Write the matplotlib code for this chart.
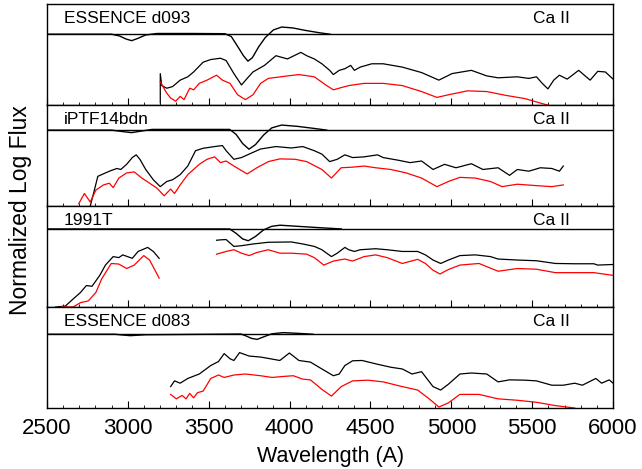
import matplotlib
matplotlib.use('Agg')
import matplotlib.pyplot as plt
from matplotlib.ticker import MultipleLocator

plt.rcParams['font.family'] = ['Liberation Sans', 'DejaVu Sans']

# panel names and line level (Ca II reference line, in panel units 0-100)
names = ['ESSENCE d093', 'iPTF14bdn', '1991T', 'ESSENCE d083']
line_level = [70.3, 75.3, 77.4, 73.1]

# ---- ESSENCE d093 ----
d093_ca_wave = [2500, 2900, 2950, 2990, 3024, 3060, 3110, 3180, 3400, 3600, 3640, 3680, 3715, 3743,
                3770, 3810, 3850, 3900, 3951, 4020, 4100, 4190, 4250]
d093_ca_flux = [70.3, 70.3, 68.5, 65.5, 63.9, 66.0, 69.5, 71.0, 71.0, 70.8, 68.0, 58.0, 49.0, 43.6,
                47.0, 58.0, 67.0, 74.5, 77.4, 76.5, 74.0, 71.6, 70.3]
d093_blk_wave = [3201, 3201, 3210, 3241, 3277, 3324, 3371, 3407, 3466, 3513, 3573, 3608, 3656, 3703,
                 3738, 3774, 3845, 3916, 3987, 4070, 4106, 4153, 4200, 4248, 4271, 4307, 4342, 4378,
                 4401, 4437, 4508, 4579, 4697, 4816, 4923, 5005, 5124, 5219, 5289, 5408, 5479, 5526,
                 5562, 5597, 5633, 5668, 5716, 5787, 5858, 5905, 5952, 6000]
d093_blk_flux = [2.3, 31.3, 19.4, 16.8, 18.4, 24.8, 28.1, 32.9, 42.6, 45.2, 46.5, 44.2, 31.3, 20.0,
                 26.5, 32.9, 39.4, 49.0, 45.8, 52.3, 49.0, 45.8, 41.0, 34.5, 30.3, 34.5, 36.1, 39.4,
                 34.5, 37.7, 41.0, 41.0, 37.7, 32.3, 24.8, 31.3, 34.5, 29.0, 27.1, 28.1, 26.5, 28.1,
                 21.6, 16.1, 24.8, 29.7, 25.8, 34.5, 24.8, 33.5, 32.9, 25.8]
d093_red_wave = [3201, 3241, 3265, 3296, 3324, 3348, 3383, 3407, 3442, 3490, 3549, 3585, 3632, 3679,
                 3727, 3774, 3821, 3869, 3987, 4058, 4153, 4224, 4271, 4319, 4366, 4461, 4579, 4697,
                 4816, 4911, 4982, 5100, 5219, 5337, 5455, 5526, 5597]
d093_red_flux = [23.2, 11.9, 7.1, 3.9, 8.7, 5.5, 16.8, 15.2, 21.6, 24.8, 29.7, 24.8, 21.6, 10.3,
                 5.5, 10.3, 21.6, 26.5, 29.0, 30.3, 28.1, 20.0, 15.2, 17.4, 19.4, 21.6, 21.6, 19.4,
                 13.5, 7.7, 10.3, 14.2, 13.5, 9.7, 6.5, 3.2, 0.0]

# ---- iPTF14bdn ----
bdn_ca_wave = [2500, 2900, 2960, 3024, 3090, 3150, 3630, 3670, 3710, 3749, 3790, 3840, 3890, 3951,
               4050, 4150, 4230]
bdn_ca_flux = [75.3, 75.3, 74.0, 72.8, 74.5, 76.0, 76.0, 71.0, 62.0, 56.4, 61.0, 70.5, 77.5, 80.3,
               79.0, 77.0, 75.3]
bdn_blk_wave = [2768, 2791, 2815, 2862, 2898, 2933, 2957, 2993, 3028, 3052, 3075, 3111, 3158, 3201,
                3241, 3277, 3324, 3371, 3419, 3466, 3537, 3585, 3608, 3656, 3703, 3750, 3821, 3916,
                4011, 4082, 4153, 4200, 4248, 4295, 4342, 4390, 4461, 4544, 4579, 4674, 4745, 4816,
                4887, 4958, 5029, 5124, 5195, 5289, 5360, 5408, 5479, 5550, 5621, 5668, 5692]
bdn_blk_flux = [0.0, 14.2, 29.5, 32.9, 35.3, 37.3, 36.3, 41.4, 48.1, 50.8, 46.4, 36.3, 26.1, 19.3,
                24.4, 26.1, 31.2, 39.7, 54.9, 57.3, 59.0, 60.0, 54.9, 46.4, 48.1, 51.5, 56.6, 59.0,
                57.6, 59.0, 54.9, 51.5, 44.1, 46.4, 50.8, 48.1, 48.8, 50.8, 48.1, 45.4, 43.1, 44.7,
                36.3, 41.4, 38.0, 42.0, 36.3, 38.0, 30.5, 36.3, 34.6, 38.0, 37.3, 34.6, 39.7]
bdn_red_wave = [2697, 2732, 2768, 2803, 2850, 2886, 2910, 2945, 2993, 3040, 3087, 3135, 3182, 3225,
                3265, 3289, 3324, 3371, 3442, 3490, 3537, 3573, 3608, 3656, 3738, 3798, 3869, 3940,
                4034, 4106, 4200, 4259, 4319, 4390, 4461, 4532, 4626, 4721, 4816, 4911, 4982, 5053,
                5148, 5242, 5313, 5408, 5526, 5621, 5692]
bdn_red_flux = [2.4, 12.5, 4.1, 15.9, 21.0, 22.7, 18.3, 27.8, 32.9, 33.9, 27.8, 22.7, 17.6, 10.2,
                16.9, 12.5, 21.0, 31.2, 41.4, 46.4, 48.8, 43.1, 44.7, 39.7, 31.9, 38.0, 44.1, 46.8,
                46.4, 44.1, 36.3, 27.8, 38.0, 38.6, 39.7, 38.0, 36.3, 32.9, 27.8, 19.3, 24.4, 28.5,
                27.8, 24.4, 19.3, 21.7, 20.3, 19.3, 21.0]

# ---- 1991T (UV part and optical part) ----
t91_ca_wave = [2500, 3630, 3670, 3710, 3745, 3790, 3840, 3890, 3941, 4050, 4200, 4320]
t91_ca_flux = [77.4, 77.4, 73.0, 67.5, 65.7, 70.0, 76.5, 80.0, 81.1, 80.0, 78.5, 77.4]
t91_uv_blk_wave = [2554, 2614, 2661, 2708, 2744, 2779, 2827, 2862, 2910, 2945, 2969, 3028, 3064,
                   3123, 3158, 3194]
t91_uv_blk_flux = [0.0, 1.0, 7.8, 14.5, 21.3, 20.6, 31.4, 41.6, 50.0, 49.0, 51.7, 48.3, 55.1,
                   59.1, 55.1, 48.3]
t91_uv_red_wave = [2590, 2661, 2708, 2756, 2803, 2839, 2898, 2945, 2993, 3040, 3099, 3135, 3194]
t91_uv_red_flux = [0.3, 0.0, 4.4, 6.1, 14.5, 28.0, 43.2, 42.6, 38.2, 41.6, 51.0, 46.6, 28.7]
t91_op_blk_wave = [3549, 3573, 3608, 3632, 3656, 3703, 3774, 3869, 4011, 4082, 4153, 4200, 4259,
                   4295, 4342, 4366, 4401, 4437, 4532, 4603, 4697, 4792, 4840, 4887, 4934, 4982,
                   5053, 5148, 5242, 5289, 5408, 5526, 5643, 5763, 5881, 5905, 6000]
t91_op_blk_flux = [66.2, 66.6, 66.9, 63.5, 60.1, 60.8, 62.5, 64.2, 64.5, 62.5, 60.1, 56.8, 50.0,
                   53.4, 59.1, 56.8, 55.1, 56.8, 57.8, 56.8, 55.1, 55.1, 51.7, 46.6, 43.2, 46.6,
                   51.0, 51.7, 50.0, 47.6, 46.6, 45.9, 43.2, 42.9, 42.9, 41.6, 42.2]
t91_op_red_wave = [3549, 3608, 3656, 3703, 3750, 3798, 3869, 3940, 4011, 4106, 4153, 4212, 4271,
                   4342, 4390, 4461, 4532, 4603, 4697, 4792, 4840, 4887, 4930, 4982, 5053, 5171,
                   5289, 5408, 5526, 5643, 5763, 5881, 6000]
t91_op_red_flux = [52.4, 55.1, 56.8, 53.4, 51.0, 54.1, 56.8, 53.4, 53.4, 52.4, 49.0, 41.6, 45.6,
                   47.6, 45.6, 50.0, 51.7, 49.0, 43.2, 47.3, 43.2, 36.5, 32.8, 37.2, 41.6, 43.2,
                   35.5, 38.2, 37.5, 34.1, 34.1, 34.1, 31.4]

# ---- ESSENCE d083 ----
d083_ca_wave = [2500, 2921, 2970, 3016, 3070, 3111, 3700, 3730, 3765, 3800, 3840, 3890, 3961,
                4050, 4145]
d083_ca_flux = [73.1, 73.1, 72.3, 71.7, 72.2, 72.6, 73.3, 71.5, 69.0, 68.0, 70.5, 73.5, 74.7,
                74.0, 73.1]
d083_blk_wave = [3265, 3289, 3324, 3371, 3442, 3513, 3561, 3596, 3632, 3656, 3691, 3750, 3821,
                 3881, 3940, 3999, 4058, 4129, 4200, 4271, 4307, 4342, 4390, 4449, 4532, 4626,
                 4697, 4757, 4816, 4887, 4934, 4982, 5053, 5124, 5219, 5289, 5360, 5455, 5526,
                 5621, 5692, 5763, 5810, 5893, 5929, 5976, 6000]
d083_blk_flux = [21.2, 26.9, 24.6, 29.3, 33.7, 42.1, 46.1, 53.9, 48.8, 47.1, 54.9, 51.5, 50.5,
                 48.8, 47.1, 54.5, 47.1, 45.5, 38.7, 32.0, 33.7, 42.1, 46.8, 47.1, 43.8, 40.4,
                 38.7, 33.7, 36.0, 21.2, 17.8, 23.6, 33.7, 34.7, 33.7, 25.9, 27.9, 27.6, 26.9,
                 22.6, 22.6, 24.6, 22.6, 29.3, 24.6, 27.9, 24.6]
d083_red_wave = [3265, 3300, 3336, 3360, 3383, 3407, 3431, 3466, 3513, 3561, 3596, 3656, 3727,
                 3821, 3892, 3963, 4023, 4082, 4129, 4200, 4259, 4319, 4390, 4485, 4579, 4697,
                 4792, 4863, 4923, 4982, 5053, 5171, 5289, 5408, 5526, 5643, 5763]
d083_red_flux = [13.5, 9.1, 12.5, 9.1, 14.5, 10.1, 15.2, 16.8, 29.3, 32.7, 30.3, 32.7, 33.7,
                 32.0, 30.3, 31.3, 32.0, 28.6, 27.9, 18.5, 11.8, 21.2, 26.9, 27.6, 25.9, 21.2,
                 17.8, 9.1, 1.0, 5.1, 13.5, 13.5, 9.1, 7.7, 5.7, 2.4, 0.0]

panels = [
    (d093_ca_wave, d093_ca_flux, [(d093_blk_wave, d093_blk_flux, 'black'),
                                  (d093_red_wave, d093_red_flux, 'red')]),
    (bdn_ca_wave, bdn_ca_flux, [(bdn_blk_wave, bdn_blk_flux, 'black'),
                                (bdn_red_wave, bdn_red_flux, 'red')]),
    (t91_ca_wave, t91_ca_flux, [(t91_uv_blk_wave, t91_uv_blk_flux, 'black'),
                                (t91_uv_red_wave, t91_uv_red_flux, 'red'),
                                (t91_op_blk_wave, t91_op_blk_flux, 'black'),
                                (t91_op_red_wave, t91_op_red_flux, 'red')]),
    (d083_ca_wave, d083_ca_flux, [(d083_blk_wave, d083_blk_flux, 'black'),
                                  (d083_red_wave, d083_red_flux, 'red')]),
]

fig, axes = plt.subplots(4, 1, sharex=True, figsize=(6.42, 4.69), dpi=100)
fig.subplots_adjust(left=0.073, right=0.955, top=0.991, bottom=0.130, hspace=0)

for i, ax in enumerate(axes):
    ca_w, ca_f, spectra = panels[i]
    ax.axhline(line_level[i], color='black', lw=1.0)
    ax.plot(ca_w, ca_f, color='black', lw=1.0)
    for w, f, c in spectra:
        ax.plot(w, f, color=c, lw=0.9)
    ax.text(0.03, 0.86, names[i], transform=ax.transAxes, fontsize=12.5, va='center', ha='left')
    ax.text(0.859, 0.86, 'Ca II', transform=ax.transAxes, fontsize=12.5, va='center', ha='left')
    ax.set_xlim(2500, 6000)
    ax.set_ylim(0, 100)
    ax.set_yticks([])
    ax.xaxis.set_major_locator(MultipleLocator(500))
    ax.xaxis.set_minor_locator(MultipleLocator(100))
    ax.tick_params(axis='x', which='major', direction='in', length=5, width=0.8, labelsize=16, pad=7)
    ax.tick_params(axis='x', which='minor', direction='in', length=2.5, width=0.6)
    for s in ax.spines.values():
        s.set_linewidth(1.0)

fig.text(0.515, 0.004, 'Wavelength (A)', ha='center', va='bottom', fontsize=15.5)
fig.text(0.032, 0.553, 'Normalized Log Flux', rotation=90, ha='center', va='center', fontsize=16.5)

plt.savefig('out.png', dpi=100)
